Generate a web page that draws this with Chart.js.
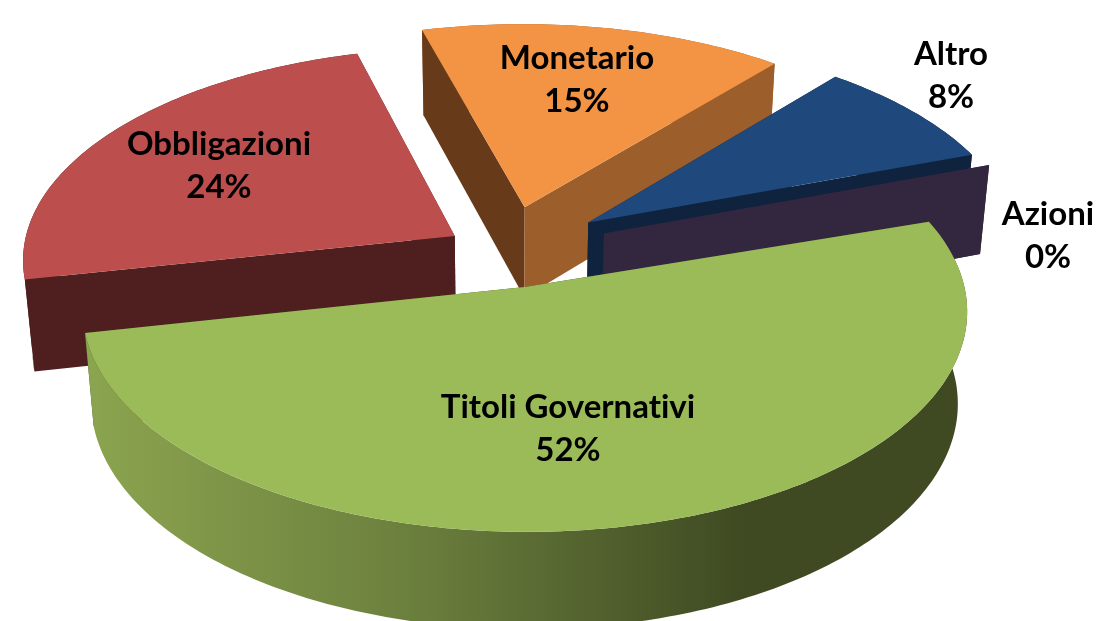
<!DOCTYPE html>
<html>
<head>
<meta charset="utf-8">
<style>html,body{margin:0;padding:0;background:#fff;overflow:hidden}canvas{display:block}</style>
<script src="https://cdn.jsdelivr.net/npm/chart.js@4"></script>
</head>
<body>
<canvas id="c" width="1098" height="621"></canvas>
<script>
const categories = ['Titoli Governativi', 'Obbligazioni', 'Monetario', 'Altro', 'Azioni'];
const values = [52, 24.2, 15.4, 8.4, 0];
const topColors = ['#9bbb59', '#bc4f4d', '#f39344', '#1f497d', '#33263f'];
const startWallColors = ['#3f4a22', '#4f1e1e', '#673a1a', '#0f233f', '#33263f'];
const endWallColors = ['#3f4a22', '#4f1e1e', '#9c5f2b', '#0f233f', '#33263f'];
const arcWallColors = ['gradient', '#4f1e1e', '#9c5f2b', '#0f233f', '#33263f'];
const explode = [48, 38, 60, 66, 68];
const labelSpots = [[568, 407], [219, 144], [577, 58], [951, 54], [1048, 214]];

const cam = { cx: 505, cy: 251, a: 432, b: 211, p: 0.105, q: 0.02, h: 93 };
function project(X, Y, Z) {
  const w = 1 - cam.p * Y + cam.q * Z;
  return [cam.cx + cam.a * X / w, cam.cy + (cam.b * Y + cam.h * Z) / w];
}
function fillPoly(ctx, pts, fill) {
  ctx.beginPath();
  pts.forEach((p, i) => i ? ctx.lineTo(p[0], p[1]) : ctx.moveTo(p[0], p[1]));
  ctx.closePath();
  ctx.fillStyle = fill;
  ctx.fill();
}
const pie3d = {
  id: 'pie3d',
  beforeDatasetsDraw(chart) {
    const ctx = chart.ctx;
    const arcs = chart.getDatasetMeta(0).data;
    const greenWall = ctx.createLinearGradient(90, 0, 740, 0);
    greenWall.addColorStop(0, '#8ba44f');
    greenWall.addColorStop(0.5, '#6b7f3d');
    greenWall.addColorStop(1, '#3f4a22');
    const slices = arcs.map((arc, i) => {
      const R = arc.outerRadius;
      const mid = (arc.startAngle + arc.endAngle) / 2;
      const e = arc.options.offset / R;
      return { i, arc, ox: e * Math.cos(mid), oy: e * Math.sin(mid) };
    }).sort((s, t) => s.oy - t.oy);
    slices.forEach(s => {
      const { i, arc, ox, oy } = s;
      const a0 = arc.startAngle, a1 = arc.endAngle;
      const n = Math.max(2, Math.ceil((a1 - a0) * 60));
      const rim = [];
      for (let k = 0; k <= n; k++) {
        const t = a0 + (a1 - a0) * k / n;
        rim.push([ox + Math.cos(t), oy + Math.sin(t)]);
      }
      const apex = [ox, oy];
      const top = p => project(p[0], p[1], 0);
      const low = p => project(p[0], p[1], 1);
      const face = (u, fill) => ({ y: (apex[1] + u[1]) / 2, pts: [top(apex), top(u), low(u), low(apex)], fill });
      const rimMean = rim.reduce((m, p) => m + p[1], 0) / rim.length;
      const walls = [
        face(rim[0], startWallColors[i]),
        face(rim[n], endWallColors[i]),
        { y: rimMean, pts: [...rim.map(top), ...rim.slice().reverse().map(low)],
          fill: arcWallColors[i] === 'gradient' ? greenWall : arcWallColors[i] }
      ];
      walls.sort((u, v) => u.y - v.y).forEach(w => fillPoly(ctx, w.pts, w.fill));
      if (a1 > a0) fillPoly(ctx, [apex, ...rim].map(top), arc.options.backgroundColor);
    });
    return false;
  },
  afterDraw(chart) {
    const ctx = chart.ctx;
    const total = values.reduce((a, b) => a + b, 0);
    ctx.save();
    ctx.fillStyle = '#000';
    ctx.textAlign = 'center';
    ctx.textBaseline = 'middle';
    ctx.font = 'bold 33px Lato';
    ctx.textRendering = 'optimizeSpeed';
    categories.forEach((name, i) => {
      const [x, y] = labelSpots[i];
      ctx.fillText(name, x, y);
      ctx.fillText(Math.round(values[i] / total * 100) + '%', x, y + 43);
    });
    ctx.restore();
  }
};
new Chart(document.getElementById('c'), {
  type: 'pie',
  data: {
    labels: categories,
    datasets: [{ data: values, backgroundColor: topColors, offset: explode, borderWidth: 0 }]
  },
  options: {
    responsive: false,
    animation: false,
    rotation: 72,
    circumference: 358,
    layout: { padding: 0 },
    plugins: { legend: { display: false }, title: { display: false }, tooltip: { enabled: false } }
  },
  plugins: [pie3d]
});
</script>
</body>
</html>
